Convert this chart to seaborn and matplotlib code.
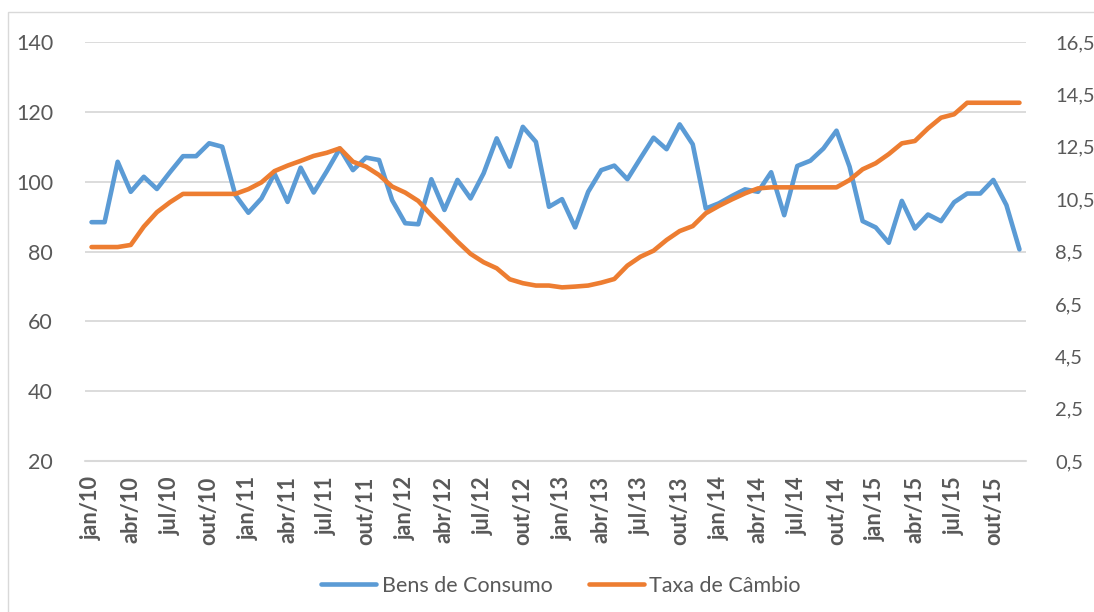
import numpy as np
import pandas as pd
import matplotlib
matplotlib.use("Agg")
import matplotlib.pyplot as plt
from matplotlib.lines import Line2D
from matplotlib.patches import Rectangle
import seaborn as sns

# ---- data ----
years = ["10", "11", "12", "13", "14", "15"]
month_abbr = ["jan", "fev", "mar", "abr", "mai", "jun",
              "jul", "ago", "set", "out", "nov", "dez"]
months = [f"{m}/{y}" for y in years for m in month_abbr]

bens_consumo = [
    88.4, 88.4, 105.7, 97.1, 101.4, 97.9, 102.7, 107.3, 107.3, 111.0, 110.0, 96.2,
    91.1, 95.2, 102.3, 94.2, 104.0, 96.9, 103.0, 109.5, 103.3, 106.9, 106.2, 94.7,
    88.1, 87.8, 100.7, 91.9, 100.5, 95.2, 102.4, 112.4, 104.3, 115.7, 111.4, 92.8,
    95.0, 86.9, 97.1, 103.3, 104.6, 100.7, 106.7, 112.6, 109.3, 116.4, 110.7, 92.3,
    93.8, 95.9, 97.8, 97.1, 102.7, 90.4, 104.5, 106.0, 109.5, 114.6, 104.3, 88.7,
    86.9, 82.5, 94.5, 86.6, 90.6, 88.7, 94.1, 96.6, 96.6, 100.5, 93.3, 80.6,
]
taxa_cambio = [
    8.67, 8.67, 8.67, 8.75, 9.45, 10.00, 10.38, 10.70, 10.70, 10.70, 10.70, 10.70,
    10.88, 11.14, 11.57, 11.78, 11.96, 12.15, 12.27, 12.44, 11.93, 11.74, 11.42, 10.98,
    10.75, 10.43, 9.89, 9.39, 8.88, 8.41, 8.09, 7.86, 7.44, 7.29, 7.20, 7.20,
    7.13, 7.16, 7.20, 7.31, 7.45, 7.96, 8.30, 8.53, 8.94, 9.28, 9.47, 9.96,
    10.24, 10.49, 10.72, 10.91, 10.95, 10.95, 10.95, 10.95, 10.95, 10.95, 11.23, 11.64,
    11.87, 12.22, 12.63, 12.72, 13.20, 13.61, 13.74, 14.18, 14.18, 14.18, 14.18, 14.18,
]
left_ticks = [20, 40, 60, 80, 100, 120, 140]
right_ticks = [0.5, 2.5, 4.5, 6.5, 8.5, 10.5, 12.5, 14.5, 16.5]
series_names = ["Bens de Consumo", "Taxa de Câmbio"]

df = pd.DataFrame({"pos": np.arange(len(months)), "mes": months,
                   "bens": bens_consumo, "taxa": taxa_cambio})

# ---- style ----
sns.set_theme(style="white")
plt.rcParams["font.family"] = ["Lato", "DejaVu Sans"]
BLUE = "#5B9BD5"
ORANGE = "#ED7D31"
GRID = "#D9D9D9"
TXT = "#595959"
FS_Y = 15.5
FS_R = 14.5
FS_X = 15.7
FS_L = 15.5

fig = plt.figure(figsize=(10.94, 6.12), dpi=100)
fig.patch.set_facecolor("white")
fig.patches.append(Rectangle((8 / 1094, -0.1), 1.2, (612 - 12) / 612 + 0.1,
                             transform=fig.transFigure, fill=False,
                             edgecolor=GRID, linewidth=1.0, zorder=0))

ax = fig.add_axes([85 / 1094, 1 - 461 / 612, (1026 - 85) / 1094, (461 - 42) / 612])
ax2 = ax.twinx()

lw = 3.3
sns.lineplot(data=df, x="pos", y="bens", ax=ax, color=BLUE, linewidth=lw,
             solid_capstyle="round", solid_joinstyle="round", zorder=3)
sns.lineplot(data=df, x="pos", y="taxa", ax=ax2, color=ORANGE, linewidth=lw,
             solid_capstyle="round", solid_joinstyle="round", zorder=3)

n = len(months)
ax.set_xlim(-0.5, n - 0.5)
ax.set_ylim(left_ticks[0], left_ticks[-1])
ax2.set_ylim(right_ticks[0], right_ticks[-1])

ax.set_yticks(left_ticks)
ax.set_yticklabels([str(v) for v in left_ticks], fontsize=FS_Y, color=TXT)
ax2.set_yticks(right_ticks)
ax2.set_yticklabels([f"{v:.1f}".replace(".", ",") for v in right_ticks],
                    fontsize=FS_R, color=TXT)

lab_pos = list(range(0, n, 3))
ax.set_xticks(lab_pos)
ax.set_xticklabels([months[i] for i in lab_pos], rotation=90, fontsize=FS_X,
                   fontweight="bold", color=TXT)
ax.set_xticks([p - 0.5 for p in lab_pos] + [n - 0.5], minor=True)
ax.tick_params(axis="x", which="major", length=0, pad=11)
ax.tick_params(axis="x", which="minor", length=6, width=1.2, color=GRID)
ax.tick_params(axis="y", length=0, pad=23)
ax2.tick_params(axis="y", length=0, pad=21)

ax.yaxis.grid(True, color=GRID, linewidth=1.3)
ax.set_axisbelow(True)
ax.set_xlabel("")
ax.set_ylabel("")
ax2.set_ylabel("")
for a in (ax, ax2):
    for s in ("left", "right", "top", "bottom"):
        a.spines[s].set_visible(False)
    a.patch.set_visible(False)
ax.axhline(left_ticks[0], color=GRID, linewidth=1.5, zorder=2, clip_on=False)

handles = [Line2D([0], [0], color=BLUE, linewidth=lw, solid_capstyle="round"),
           Line2D([0], [0], color=ORANGE, linewidth=lw, solid_capstyle="round")]
leg = fig.legend(handles, series_names, loc="center",
                 bbox_to_anchor=(0.5128, 1 - 586 / 612),
                 ncol=2, frameon=False, fontsize=FS_L, handlelength=2.55,
                 handletextpad=0.25, columnspacing=1.7)
for t in leg.get_texts():
    t.set_color(TXT)

fig.savefig("out.png", dpi=100, facecolor="white")
